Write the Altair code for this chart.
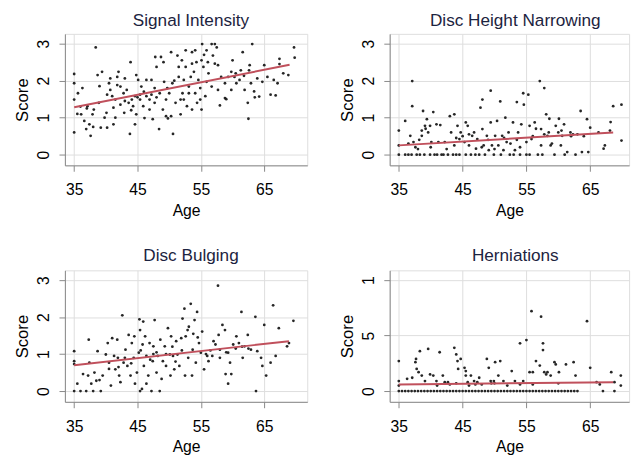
import altair as alt
import pandas as pd

# ---------------- data ----------------
si_age = [69.7, 69.8, 68.8, 67.4, 67.4, 67.1, 66.0, 65.0, 64.7, 63.4, 64.2, 63.1, 62.7, 62.6, 62.4, 62.5,
          61.6, 61.8, 61.1, 60.0, 60.3, 59.8, 59.8, 58.8, 58.0, 57.7, 57.7, 56.9, 57.2, 56.7, 55.9, 56.1,
          55.9, 55.7, 55.2, 55.1, 54.9, 54.9, 55.1, 54.4, 54.1, 53.6, 53.9, 53.6, 53.4, 53.1, 52.8, 52.6,
          52.3, 52.1, 51.8, 51.8, 51.5, 51.3, 50.6, 50.3, 50.3, 49.7, 49.5, 49.2, 49.1, 48.7, 48.4, 48.0,
          47.8, 47.7, 47.7, 47.4, 47.2, 46.9, 46.4, 46.4, 46.1, 45.9, 45.4, 45.1, 44.8, 44.8, 44.6, 44.6,
          44.1, 43.8, 43.9, 43.0, 42.9, 42.8, 42.3, 42.0, 41.8, 41.5, 41.2, 41.2, 40.7, 40.5, 40.2, 40.1,
          40.2, 39.4, 39.2, 38.9, 38.7, 38.4, 38.1, 37.9, 37.6, 37.4, 37.1, 36.9, 36.6, 36.3, 36.1, 35.6,
          35.0, 35.0, 35.0, 35.0,
          40.7, 41.0, 41.8, 42.3, 43.3, 43.6, 44.3, 45.4, 45.6, 46.9, 47.2, 48.5, 49.0, 49.5, 50.0, 50.5,
          51.0, 51.5, 52.3, 52.6, 53.1, 53.6, 54.1, 54.6, 55.4, 56.2, 56.7, 57.2, 58.2, 58.8, 59.3, 60.6,
          61.3, 61.9, 62.9, 63.9, 65.5, 66.5, 68.0,
          35.5, 36.0, 37.0, 38.0, 39.0, 39.8, 41.5, 43.0, 44.0, 45.0, 46.0, 48.0, 49.8, 50.8, 52.0, 54.3,
          55.5, 57.5, 59.0, 60.5, 63.5, 66.8]
si_score = [2.90, 2.62, 2.15, 2.59, 2.45, 1.93, 1.62, 2.42, 1.97, 1.71, 1.57, 2.99, 2.42, 2.28, 1.40, 0.97,
            2.77, 2.13, 2.02, 2.55, 2.10, 2.24, 1.75, 1.53, 1.33, 1.75, 2.42, 2.68, 2.99, 2.99, 2.82, 2.50,
            1.97, 1.58, 2.99, 2.55, 1.80, 1.49, 1.22, 1.40, 2.82, 2.77, 2.24, 2.46, 2.10, 1.84, 1.31, 2.82,
            2.02, 1.66, 1.49, 1.09, 2.37, 2.68, 0.56, 2.77, 1.04, 1.80, 1.49, 1.97, 2.50, 2.64, 0.69, 2.37,
            2.64, 1.80, 1.40, 0.96, 1.62, 1.22, 2.02, 1.58, 0.99, 1.31, 1.62, 2.02, 2.15, 1.09, 1.58, 0.82,
            1.49, 0.56, 2.50, 2.06, 1.13, 1.66, 1.35, 2.24, 1.88, 1.49, 1.27, 0.82, 2.06, 1.93, 1.62, 1.13,
            0.73, 2.24, 0.73, 1.40, 2.15, 2.90, 1.22, 1.09, 0.51, 0.82, 1.31, 0.69, 0.91, 1.80, 1.09, 1.66,
            0.60, 1.49, 1.93, 2.18,
            1.75, 1.58, 2.10, 1.84, 1.75, 1.40, 1.31, 1.49, 1.84, 1.49, 2.02, 1.66, 1.22, 1.04, 1.66, 1.93,
            1.40, 2.10, 1.49, 2.37, 1.66, 1.22, 1.66, 2.02, 2.37, 2.20, 1.84, 2.46, 2.10, 1.93, 2.10, 1.93,
            2.28, 1.75, 1.93, 2.06, 2.10, 2.02, 2.20,
            1.10, 1.30, 1.25, 0.75, 1.85, 1.00, 1.00, 1.45, 1.20, 1.55, 1.70, 1.55, 0.98, 2.00, 2.55, 2.50,
            2.70, 2.90, 1.50, 2.20, 1.55, 1.60]

dh_age = [35.0, 35.0, 35.0, 36.0, 37.1, 37.1, 36.8, 36.5, 37.3, 37.6, 37.8, 38.6, 38.6, 38.8, 39.1, 39.4,
          39.6, 39.9, 40.4, 40.1, 39.9, 40.6, 40.9, 41.2, 41.7, 42.2, 42.7, 43.0, 43.2, 43.7, 43.7, 44.0,
          44.2, 44.5, 44.7, 45.3, 45.5, 45.8, 46.0, 46.3, 46.5, 46.8, 47.1, 47.3, 47.6, 47.8, 48.1, 48.1,
          48.3, 48.8, 49.1, 49.4, 49.4, 49.6, 49.9, 50.1, 50.4, 50.6, 50.9, 51.2, 51.4, 51.7, 51.9, 52.2,
          52.4, 52.9, 53.2, 53.5, 53.7, 54.0, 54.2, 54.5, 54.6, 55.0, 55.3, 55.0, 55.5, 55.8, 56.3, 56.8,
          57.1, 57.3, 57.3, 57.8, 58.1, 58.3, 58.6, 58.8, 59.4, 59.6, 60.1, 60.4, 60.6, 60.9, 61.4, 61.9,
          62.7, 63.5, 63.7, 64.5, 64.7, 65.0, 66.3, 67.1, 67.3, 68.1, 68.2, 68.6, 69.9, 69.9,
          36.0, 37.0, 38.3, 39.0, 41.0, 42.0, 43.5, 44.5, 45.5, 47.0, 48.5, 51.0, 53.0, 55.5, 57.5, 61.0,
          36.5, 38.0, 40.0, 42.5, 44.0, 46.0, 48.0, 50.0, 52.5, 54.0, 56.0, 57.8, 59.0, 60.0, 62.0, 63.0,
          38.2, 39.2, 41.5, 45.0, 49.0, 51.5, 53.5, 56.5, 58.5, 60.5, 62.3, 64.0]
dh_score = [0.65, 0.25, 0.00, 0.91, 1.99, 1.31, 0.51, 0.00, 0.34, 0.20, 0.00, 0.65, 0.51, 1.18, 0.78, 0.96,
            0.60, 0.78, 1.15, 0.34, 0.00, 0.00, 0.82, 0.34, 0.00, 0.34, 0.00, 1.04, 0.60, 1.09, 0.25, 0.00,
            0.78, 0.42, 0.60, 0.34, 0.87, 0.78, 0.25, 0.00, 0.51, 0.60, 0.16, 0.42, 0.00, 1.27, 1.49, 0.69,
            0.25, 0.51, 0.12, 1.73, 0.87, 0.25, 0.00, 0.51, 0.91, 0.25, 1.44, 0.51, 0.12, 1.00, 0.34, 0.60,
            0.00, 0.87, 0.12, 1.42, 0.60, 0.00, 0.82, 1.66, 1.35, 0.34, 1.62, 0.00, 0.78, 0.42, 0.87, 0.00,
            1.99, 0.69, 0.25, 1.80, 1.09, 0.51, 0.97, 0.25, 0.00, 0.78, 0.97, 0.25, 0.51, 0.82, 0.07, 0.60,
            0.00, 1.18, 0.07, 0.96, 0.07, 0.73, 0.60, 0.16, 0.25, 0.65, 0.88, 1.31, 1.35, 0.38,
            0.00, 0.00, 0.00, 0.00, 0.00, 0.00, 0.00, 0.00, 0.00, 0.00, 0.00, 0.00, 0.00, 0.00, 0.00, 0.00,
            0.30, 0.15, 0.20, 0.15, 0.45, 0.55, 0.20, 0.15, 0.30, 0.20, 0.50, 0.55, 0.30, 0.60, 0.50, 0.55,
            0.40, 0.70, 0.80, 0.50, 0.40, 0.45, 0.40, 0.70, 0.60, 0.65, 0.55, 0.50]

db_age = [35.0, 35.0, 35.0, 35.0, 35.5, 36.0, 36.4, 36.9, 37.2, 37.3, 37.4, 37.7, 38.0, 38.2, 38.5, 38.7,
          39.2, 39.5, 40.0, 40.3, 40.5, 40.8, 41.0, 41.3, 41.5, 41.8, 41.9, 42.1, 42.3, 42.6, 42.8, 43.1,
          43.4, 43.6, 43.9, 44.1, 44.4, 44.5, 44.6, 44.9, 45.2, 45.3, 45.4, 45.4, 45.7, 45.8, 45.9, 46.0,
          46.2, 46.4, 46.4, 46.7, 46.9, 47.2, 47.4, 47.5, 47.7, 48.0, 48.2, 48.5, 48.6, 48.8, 49.0, 49.3,
          49.5, 49.8, 50.1, 50.2, 50.3, 50.6, 50.8, 51.1, 51.3, 51.6, 51.9, 52.1, 52.4, 52.5, 52.6, 52.9,
          53.1, 53.4, 53.6, 53.7, 54.0, 54.2, 54.4, 54.7, 55.0, 55.2, 55.5, 56.0, 56.2, 56.8, 57.3, 57.7,
          57.8, 58.0, 58.4, 58.8, 58.9, 59.3, 59.3, 59.6, 59.8, 60.1, 60.6, 61.0, 61.4, 61.6, 61.9, 62.4,
          62.9, 63.6, 63.7, 63.9, 64.5, 64.7, 65.0, 65.3, 66.0, 66.4, 66.8, 67.3, 68.6, 68.9, 69.6,
          39.0, 40.5, 42.0, 43.0, 44.0, 45.5, 47.0, 48.0, 49.5, 51.0, 52.0, 53.0, 54.5, 56.5, 58.0, 60.5,
          61.5, 62.5, 47.5, 50.5, 53.8, 55.8, 57.0, 59.0]
db_score = [0.00, 0.73, 0.81, 1.08, 0.20, 0.00, 0.46, 0.00, 0.42, 1.39, 0.77, 0.20, 0.00, 0.50, 0.28, 1.08,
            0.00, 0.42, 0.99, 1.30, 0.77, 0.15, 1.43, 0.95, 0.59, 1.39, 0.90, 0.42, 0.24, 2.05, 0.77, 1.12,
            0.68, 1.52, 0.42, 1.30, 0.90, 1.48, 0.20, 0.50, 1.04, 1.94, 1.65, 0.00, 0.06, 1.26, 1.88, 0.68,
            1.48, 0.20, 0.95, 0.42, 1.30, 0.00, 0.81, 1.21, 1.92, 0.50, 0.95, 0.00, 1.39, 0.33, 0.81, 1.21,
            0.68, 1.70, 0.99, 0.42, 1.48, 0.95, 0.59, 1.35, 0.99, 0.68, 1.43, 1.96, 2.23, 0.42, 1.48, 1.65,
            1.74, 2.36, 0.42, 1.12, 1.92, 0.77, 2.14, 1.30, 1.04, 1.61, 0.59, 0.95, 0.81, 0.95, 1.26, 2.85,
            1.52, 1.12, 1.79, 1.65, 0.46, 0.20, 1.04, 0.77, 0.46, 1.26, 1.48, 1.30, 2.14, 0.90, 1.21, 1.52,
            1.12, 2.01, 0.00, 1.08, 0.90, 0.68, 1.79, 0.42, 0.77, 2.32, 0.95, 1.70, 1.21, 1.30, 1.90,
            0.30, 0.60, 0.65, 0.90, 0.75, 1.10, 0.85, 1.05, 1.00, 0.80, 1.10, 0.90, 1.45, 1.10, 0.90, 1.15,
            1.20, 1.15, 1.00, 1.20, 1.55, 1.00, 1.35, 1.05]

hn_age = [35.0, 35.0, 35.0, 36.3, 37.1, 37.6, 37.7, 37.8, 38.1, 38.3, 38.6, 39.1, 39.6, 39.9, 40.4, 40.9,
          41.4, 41.9, 42.2, 42.7, 43.7, 44.0, 44.2, 44.3, 44.7, 45.3, 45.5, 45.5, 45.8, 46.3, 46.8, 47.3,
          47.6, 48.8, 49.1, 49.4, 49.9, 50.1, 50.6, 50.9, 51.4, 52.7, 53.2, 54.0, 54.5, 55.0, 55.5, 55.8,
          56.0, 56.5, 57.1, 57.3, 57.6, 57.6, 57.8, 58.1, 58.3, 58.8, 59.4, 59.6, 60.1, 61.2, 62.4, 62.7,
          64.5, 65.0, 66.0, 66.5, 68.3, 68.8, 69.8, 69.8,
          35.0, 35.5, 36.0, 36.5, 37.0, 37.5, 38.0, 38.5, 39.0, 39.5, 40.0, 40.5, 41.0, 41.5, 42.0, 42.5,
          43.0, 43.5, 44.0, 44.5, 45.0, 45.5, 46.0, 46.5, 47.0, 47.5, 48.0, 48.5, 49.0, 49.5, 50.0, 50.5,
          51.0, 51.5, 52.0, 52.5, 53.0, 53.5, 54.0, 54.5, 55.0, 55.5, 56.0, 56.5, 57.0, 57.5, 58.0, 58.5,
          59.0, 59.5, 60.0, 60.5, 61.0, 61.5, 62.0, 62.5, 63.0, 67.0, 68.8,
          43.0, 44.0, 46.0, 48.0, 50.0, 52.0, 56.0, 60.0, 41.0, 47.0, 49.5, 54.0]
hn_score = [0.27, 0.09, 0.05, 0.11, 0.12, 0.26, 0.29, 0.20, 0.17, 0.36, 0.14, 0.09, 0.38, 0.15, 0.14, 0.09,
            0.35, 0.14, 0.08, 0.08, 0.39, 0.33, 0.27, 0.20, 0.29, 0.21, 0.18, 0.14, 0.08, 0.14, 0.09, 0.08,
            0.12, 0.29, 0.21, 0.09, 0.09, 0.26, 0.14, 0.27, 0.09, 0.18, 0.09, 0.43, 0.09, 0.46, 0.17, 0.72,
            0.17, 0.27, 0.23, 0.67, 0.43, 0.37, 0.17, 0.15, 0.17, 0.14, 0.26, 0.24, 0.17, 0.24, 0.26, 0.14,
            0.63, 0.21, 0.08, 0.06, 0.17, 0.08, 0.14, 0.05,
            0.00, 0.00, 0.00, 0.00, 0.00, 0.00, 0.00, 0.00, 0.00, 0.00, 0.00, 0.00, 0.00, 0.00, 0.00, 0.00,
            0.00, 0.00, 0.00, 0.00, 0.00, 0.00, 0.00, 0.00, 0.00, 0.00, 0.00, 0.00, 0.00, 0.00, 0.00, 0.00,
            0.00, 0.00, 0.00, 0.00, 0.00, 0.00, 0.00, 0.00, 0.00, 0.00, 0.00, 0.00, 0.00, 0.00, 0.00, 0.00,
            0.00, 0.00, 0.00, 0.00, 0.00, 0.00, 0.00, 0.00, 0.00, 0.00, 0.00,
            0.06, 0.07, 0.05, 0.06, 0.07, 0.05, 0.06, 0.07, 0.05, 0.06, 0.07, 0.06]

# fitted lines (end points)
si_fit_age, si_fit_score = [35.0, 69.0], [1.28, 2.43]
dh_fit_age, dh_fit_score = [35.0, 68.6], [0.25, 0.60]
db_fit_age, db_fit_score = [35.0, 68.9], [0.70, 1.35]
hn_fit_age, hn_fit_score = [35.0, 68.6], [0.06, 0.08]

titles = ["Signal Intensity", "Disc Height Narrowing", "Disc Bulging", "Herniations"]
age_ticks = [35, 45, 55, 65]
score_ticks = [0, 1, 2, 3]
score_labels = ["0", "1", "2", "3"]
hern_ticks = [0, 0.5, 1]
hern_labels = ["0", "5", "1"]

FONT = "Liberation Sans"
LINE_COLOR = "#c0505c"
POINT_COLOR = "#1a1a1a"
TITLE_COLOR = "#1c2340"


def label_expr(values, labels):
    expr = "'" + labels[-1] + "'"
    for v, lab in reversed(list(zip(values[:-1], labels[:-1]))):
        expr = f"datum.value == {v} ? '{lab}' : " + expr
    return expr


def panel(ages, scores, fit_age, fit_score, title, xdom, ydom, yticks, ylabels, width, toff, tdx):
    pts = pd.DataFrame({"Age": ages, "Score": scores})
    fit = pd.DataFrame({"Age": fit_age, "Score": fit_score})
    x = alt.X("Age:Q",
              scale=alt.Scale(domain=xdom, nice=False, zero=False),
              axis=alt.Axis(values=age_ticks, title="Age", labelAngle=0,
                            tickSize=6, labelPadding=11, titlePadding=5,
                            labelFontSize=16, titleFontSize=16, titleFontWeight="normal"))
    y = alt.Y("Score:Q",
              scale=alt.Scale(domain=ydom, nice=False, zero=False),
              axis=alt.Axis(values=yticks, labelExpr=label_expr(yticks, ylabels),
                            title="Score", labelAngle=270, labelAlign="center",
                            labelBaseline="bottom", tickSize=6, labelPadding=8,
                            titlePadding=4, labelFontSize=16, titleFontSize=17,
                            titleFontWeight="normal"))
    p = alt.Chart(pts).mark_circle(size=8, color=POINT_COLOR, opacity=0.95).encode(x=x, y=y)
    l = alt.Chart(fit).mark_line(color=LINE_COLOR, strokeWidth=2).encode(x="Age:Q", y="Score:Q")
    return alt.layer(p, l).properties(
        width=width, height=134,
        title=alt.TitleParams(title, fontSize=17.5, font=FONT, fontWeight="normal",
                              color=TITLE_COLOR, baseline="top", offset=toff, dx=tdx),
    )


c1 = panel(si_age, si_score, si_fit_age, si_fit_score, titles[0], [33.54, 71.79], [-0.29, 3.265],
           score_ticks, score_labels, 247, 4.4, 5)
c2 = panel(dh_age, dh_score, dh_fit_age, dh_fit_score, titles[1], [33.57, 71.1], [-0.29, 3.265],
           score_ticks, score_labels, 244, 4.4, 6)
c3 = panel(db_age, db_score, db_fit_age, db_fit_score, titles[2], [33.54, 71.79], [-0.29, 3.265],
           score_ticks, score_labels, 247, 6, 5)
c4 = panel(hn_age, hn_score, hn_fit_age, hn_fit_score, titles[3], [33.57, 71.1], [-0.097, 1.088],
           hern_ticks, hern_labels, 244, 6, 6)

chart = alt.concat(c1, c2, c3, c4, columns=2,
                   spacing=alt.RowColnumber(row=107, column=84),
                   bounds="flush").properties(
    padding={"left": 5, "top": -1, "right": 5, "bottom": 5}
).configure_view(stroke=None).configure_axis(
    grid=False, domainColor="#3a3a3a", domainWidth=1.6, tickColor="#3a3a3a", tickWidth=1.4,
    labelFont=FONT, titleFont=FONT, labelColor="#111", titleColor="#111",
    titleFontWeight="normal"
).configure(background="white")

chart.save("out.html", embed_options={"renderer": "svg", "actions": False})
